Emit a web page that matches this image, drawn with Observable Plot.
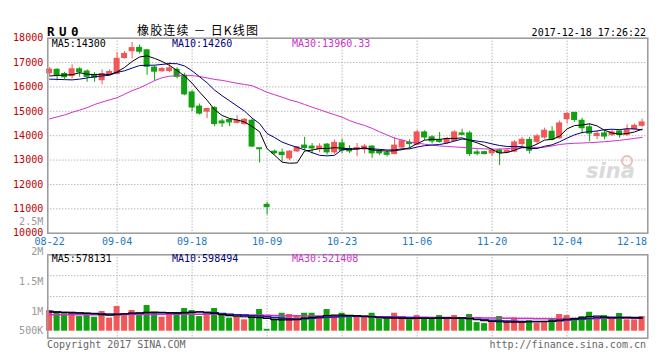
<!DOCTYPE html>
<html><head><meta charset="utf-8">
<script src="https://cdn.jsdelivr.net/npm/d3@7"></script>
<script src="https://cdn.jsdelivr.net/npm/@observablehq/plot@0.6"></script>
<style>
body{margin:0;background:#fff}
#wrap{position:relative;width:661px;height:357px;overflow:hidden;background:#fff}
#price,#vol,#vaxis{position:absolute;left:0}
#price{top:0}
#vol{top:250px}
#vaxis{top:0;pointer-events:none}
#ann{position:absolute;left:0;top:0;pointer-events:none}
</style></head><body>
<div id="wrap"><div id="price"></div><div id="vol"></div><div id="vaxis"></div><svg id="ann" width="661" height="357"></svg></div>
<script>
// ---------- data ----------
const symbol = "RU0";
const title = "橡胶连续 － 日K线图";
const stamp = "2017-12-18 17:26:22";
const copyright = "Copyright 2017 SINA.COM";
const url = "http://finance.sina.com.cn";
const maLabels = ["MA5:14300", "MA10:14260", "MA30:13960.33"];
const vmaLabels = ["MA5:578131", "MA10:598494", "MA30:521408"];

const dates = ["08-22","08-23","08-24","08-25","08-28","08-29","08-30","08-31","09-01",
"09-04","09-05","09-06","09-07","09-08","09-11","09-12","09-13","09-14","09-15",
"09-18","09-19","09-20","09-21","09-22","09-25","09-26","09-27","09-28","09-29",
"10-09","10-10","10-11","10-12","10-13","10-16","10-17","10-18","10-19","10-20",
"10-23","10-24","10-25","10-26","10-27","10-30","10-31","11-01","11-02","11-03",
"11-06","11-07","11-08","11-09","11-10","11-13","11-14","11-15","11-16","11-17",
"11-20","11-21","11-22","11-23","11-24","11-27","11-28","11-29","11-30","12-01",
"12-04","12-05","12-06","12-07","12-08","12-11","12-12","12-13","12-14","12-15",
"12-18"];

const open = [16565,16700,16530,16450,16720,16630,16490,16280,16530,16540,17190,17470,17600,17500,16790,16650,16660,16700,16460,15770,15190,14990,15130,14580,14640,14530,14480,14610,13480,11160,13340,13300,13070,13360,13590,13550,13440,13630,13320,13680,13450,13440,13440,13550,13330,13280,13250,13520,13700,13630,14130,13930,13790,13700,13790,14090,14090,13310,13320,13280,13390,13310,13350,13660,13820,13750,13930,14160,13900,14680,14930,14610,14340,13990,14090,14030,14170,14040,14270,14410];
const high = [16790,16740,16600,16910,16790,16700,16590,16700,16700,17410,17450,17830,17720,17540,16860,16800,17000,16790,16560,15850,15300,15130,15190,14680,14690,14820,14700,14690,13490,11270,13410,13450,13390,13560,13930,13680,13670,13680,13820,13860,13590,13680,13640,13590,13410,13380,13930,13840,13830,14230,14200,14000,14130,13930,14200,14270,14180,13410,13360,13450,13460,13430,13800,13930,13930,14060,14310,14370,14600,14950,14960,14720,14480,14200,14200,14230,14230,14450,14480,14680];
const low = [16470,16250,16300,16330,16400,16190,16190,16090,16450,16500,17140,17150,17350,16480,16240,16600,16590,16330,15640,14990,14850,14700,14370,14340,14370,14480,14440,13520,12880,10750,13210,12910,12980,13300,13390,13250,13300,13210,13230,13250,13270,13140,13260,13070,13190,13130,13220,13480,13480,13590,13800,13660,13690,13640,13750,14000,13150,13170,13210,13140,12770,13260,13300,13560,13250,13640,13860,13790,13860,14480,14550,14070,13750,13830,13830,13970,13900,13970,14210,14340];
const close = [16710,16480,16400,16720,16600,16420,16380,16520,16610,17150,17350,17590,17450,16830,16630,16730,16760,16420,15700,15160,14910,15090,14480,14510,14550,14610,14650,13560,13450,11070,13280,13210,13340,13520,13500,13480,13550,13320,13700,13390,13360,13490,13550,13280,13280,13220,13590,13770,13660,14130,13930,13770,13750,13860,14130,14040,13250,13260,13250,13380,13290,13380,13720,13830,13390,13970,14200,13840,14500,14890,14650,14310,14090,14070,13970,14130,14040,14230,14400,14540];

const ma5 = [16450,16470,16490,16500,16582,16524,16504,16528,16506,16616,16802,17044,17230,17274,17170,17046,16880,16674,16448,16154,15790,15456,15068,14830,14708,14648,14560,14376,14164,13468,13202,12914,12870,12884,13370,13410,13478,13474,13510,13488,13464,13452,13498,13414,13392,13364,13384,13428,13504,13674,13816,13852,13848,13888,13888,13910,13806,13708,13586,13436,13286,13312,13404,13520,13522,13658,13822,13846,13980,14280,14416,14438,14488,14402,14218,14114,14060,14088,14154,14268];
const ma10 = [16320,16310,16300,16290,16320,16370,16420,16450,16480,16599,16663,16774,16879,16890,16893,16924,16962,16952,16861,16662,16418,16168,15871,15639,15431,15219,15008,14722,14497,14088,13925,13737,13623,13524,13419,13306,13196,13172,13197,13429,13437,13465,13486,13462,13440,13414,13418,13463,13459,13533,13590,13618,13638,13696,13781,13863,13829,13778,13737,13662,13598,13559,13556,13553,13479,13472,13567,13625,13750,13901,14037,14130,14167,14191,14249,14265,14249,14288,14278,14243];
const ma30 = [14690,14770,14850,14960,15050,15150,15280,15380,15470,15560,15700,15850,15960,16110,16260,16380,16440,16460,16465,16465,16430,16370,16310,16270,16210,16150,16100,16050,15920,15780,15680,15580,15470,15390,15280,15170,15070,14960,14860,14760,14620,14510,14420,14300,14160,14030,13900,13820,13740,13700,13650,13610,13580,13560,13540,13520,13500,13470,13460,13450,13450,13470,13490,13500,13510,13520,13530,13580,13640,13670,13690,13700,13715,13730,13755,13780,13810,13850,13890,13930];

// volume in thousands of lots
const volumeK = [744,682,625,682,527,646,502,708,466,888,563,744,563,924,646,502,646,646,816,744,527,563,816,625,466,502,408,563,780,69,444,646,600,563,646,646,527,780,563,646,527,563,502,646,430,444,646,527,408,563,480,430,563,480,563,480,600,310,274,320,527,357,480,357,380,285,357,430,600,563,380,527,682,480,563,444,636,408,408,527];
const vma5K = [690,680,670,660,650,640,630,600,580,600,620,650,660,680,690,680,660,650,660,680,700,660,640,600,560,540,520,500,490,460,420,410,410,420,470,500,520,560,580,580,570,560,540,520,480,470,470,460,450,460,470,470,480,480,470,480,460,420,380,350,340,330,330,330,340,340,350,360,400,430,450,480,530,540,510,480,480,490,480,470];
const vma10K = [720,700,680,670,660,650,640,630,620,620,630,640,650,660,660,660,660,660,670,680,690,680,660,640,610,590,570,560,550,520,490,470,450,440,450,470,480,500,510,530,540,540,530,520,510,500,500,490,480,480,470,470,470,470,470,470,450,430,410,390,380,370,360,350,350,345,350,360,380,400,420,440,460,480,490,500,500,500,490,490];
const vma30K = [590,590,590,590,592,592,594,594,596,596,598,600,600,602,604,606,608,610,612,614,614,612,610,606,600,596,590,586,580,570,565,560,556,552,550,548,546,545,544,542,540,535,530,525,520,516,512,508,505,500,498,495,492,490,488,486,484,480,476,472,468,464,460,456,454,452,450,450,450,452,454,456,458,460,462,464,466,468,470,472];

const xTickLabels = ["08-22","09-04","09-18","10-09","10-23","11-06","11-20","12-04","12-18"];
const priceTicks = [10000,11000,12000,13000,14000,15000,16000,17000,18000];
const volTicksK = [500,1000,1500,2000,2500];
const volGridK = [500,1250,2000];

// ---------- build ----------
const rows = dates.map((d, i) => ({
  i, date: d, open: open[i], high: high[i], low: low[i], close: close[i],
  vol: volumeK[i], ma5: ma5[i], ma10: ma10[i], ma30: ma30[i],
  vma5: vma5K[i], vma10: vma10K[i], vma30: vma30K[i],
  up: close[i] >= open[i]
}));
const up = rows.filter(r => r.up), down = rows.filter(r => !r.up);

const W = 661, ML = 47.3, MR = 13.7;
const xDomain = [-0.24, 79.76];
const RED = "#f25757", GREEN = "#10a010";
const C5 = "#000000", C10 = "#000080", C30 = "#cc33cc";
const grid = {stroke: "#9a9a9a", strokeDasharray: "1,2", strokeWidth: 1};
const font = {fontFamily: "'DejaVu Sans Mono', monospace", fontSize: "10px", background: "white", overflow: "visible"};
const tickIdx = xTickLabels.map(l => dates.indexOf(l));
const innerIdx = tickIdx.slice(1, -1);
const half = 0.4;

const price = Plot.plot({
  width: W, height: 250,
  marginTop: 37.7, marginBottom: 17.3, marginLeft: ML, marginRight: MR,
  style: font,
  x: {type: "linear", domain: xDomain},
  y: {domain: [10000, 18000]},
  marks: [
    Plot.ruleY(priceTicks.slice(1, -1), grid),
    Plot.ruleX(innerIdx, grid),
    Plot.ruleX(up, {x: "i", y1: "low", y2: "high", stroke: RED}),
    Plot.ruleX(down, {x: "i", y1: "low", y2: "high", stroke: GREEN}),
    Plot.rect(up, {x1: d => d.i - half, x2: d => d.i + half, y1: "open", y2: "close", fill: RED, insetTop: -0.6, insetBottom: -0.6}),
    Plot.rect(down, {x1: d => d.i - half, x2: d => d.i + half, y1: "open", y2: "close", fill: GREEN, insetTop: -0.6, insetBottom: -0.6}),
    Plot.line(rows, {x: "i", y: "ma30", stroke: C30, strokeWidth: 1}),
    Plot.line(rows, {x: "i", y: "ma10", stroke: C10, strokeWidth: 1}),
    Plot.line(rows, {x: "i", y: "ma5", stroke: C5, strokeWidth: 1}),
    Plot.axisY(priceTicks, {anchor: "left", tickSize: 0, tickPadding: 4.6, fill: "#c00000", tickFormat: d => String(d), label: null}),
    Plot.axisX(tickIdx.slice(0, -1), {anchor: "bottom", tickSize: 0, tickPadding: 5, fill: "#1c78c0", tickFormat: i => dates[i], label: null}),
    Plot.axisX(tickIdx.slice(-1), {anchor: "bottom", tickSize: 0, tickPadding: 5, fill: "#1c78c0", tickFormat: i => dates[i], textAnchor: "end", dx: 5, label: null}),
    Plot.frame({stroke: "#999", strokeWidth: 1.5})
  ]
});
document.getElementById("price").append(price);

const vol = Plot.plot({
  width: W, height: 107,
  marginTop: 4.3, marginBottom: 19.3, marginLeft: ML, marginRight: MR,
  insetBottom: 7,
  style: font,
  x: {type: "linear", domain: xDomain, axis: null},
  y: {domain: [0, 2750], axis: null},
  marks: [
    Plot.ruleY(volGridK, grid),
    Plot.ruleX(innerIdx, grid),
    Plot.rect(up, {x1: d => d.i - half, x2: d => d.i + half, y1: 0, y2: "vol", fill: RED}),
    Plot.rect(down, {x1: d => d.i - half, x2: d => d.i + half, y1: 0, y2: "vol", fill: GREEN}),
    Plot.line(rows, {x: "i", y: "vma30", stroke: C30, strokeWidth: 1.5, curve: "step"}),
    Plot.line(rows, {x: "i", y: "vma10", stroke: "#1a1aa0", strokeWidth: 1.5, curve: "step"}),
    Plot.line(rows, {x: "i", y: "vma5", stroke: C5, strokeWidth: 1.2, curve: "step"}),
    Plot.frame({stroke: "#999", strokeWidth: 1.5})
  ]
});
document.getElementById("vol").append(vol);

// Sina's volume label column: evenly spaced labels, lowest one held inside the panel
const fmtVol = v => v >= 1000 ? (v / 1000) + "M" : v + "K";
const vaxis = Plot.plot({
  width: W, height: 357,
  marginTop: 0, marginBottom: 0, marginLeft: ML, marginRight: MR,
  style: {...font, background: "transparent"},
  y: {domain: [669, 2500], range: [330.7, 221.7], clamp: true},
  marks: [
    Plot.axisY(volTicksK, {anchor: "left", tickSize: 0, tickPadding: 4.6, fill: "#999", tickFormat: fmtVol, label: null})
  ]
});
document.getElementById("vaxis").append(vaxis);

// ---------- annotations ----------
const ann = d3.select("#ann");
const mono = "'DejaVu Sans Mono', monospace";
function txt(x, y, s, o = {}) {
  const t = ann.append("text").attr("x", x).attr("y", y).text(s)
    .attr("font-family", o.family || mono).attr("font-size", o.size || 10)
    .attr("fill", o.fill || "#000").attr("text-anchor", o.anchor || "start");
  if (o.weight) t.attr("font-weight", o.weight);
  if (o.spacing) t.attr("letter-spacing", o.spacing);
  if (o.italic) t.attr("font-style", "italic");
  if (o.len) t.attr("textLength", o.len).attr("lengthAdjust", "spacing");
  return t;
}
txt(47, 36, symbol, {size: 12.5, weight: "bold", spacing: 4.5});
txt(137, 34.5, title, {family: "'Noto Sans CJK SC', sans-serif", size: 12, len: 121}).attr("xml:space", "preserve");
txt(646, 36, stamp, {anchor: "end"});
const maColors = [C5, C10, C30];
const maX = [51.7, 172, 292];
maLabels.forEach((s, k) => txt(maX[k], 47, s, {fill: maColors[k]}));
vmaLabels.forEach((s, k) => txt(maX[k], 262, s, {fill: maColors[k]}));
txt(47, 347.5, copyright, {fill: "#666"});
txt(646, 347.5, url, {fill: "#666", anchor: "end"});
ann.append("circle").attr("cx", 627).attr("cy", 161).attr("r", 5).attr("fill", "none").attr("stroke", "#e9c0b8").attr("stroke-width", 2);
txt(586, 178, "sina", {family: "'DejaVu Sans', sans-serif", size: 21, weight: "bold", italic: true, fill: "#dadada"});
</script>
</body></html>
